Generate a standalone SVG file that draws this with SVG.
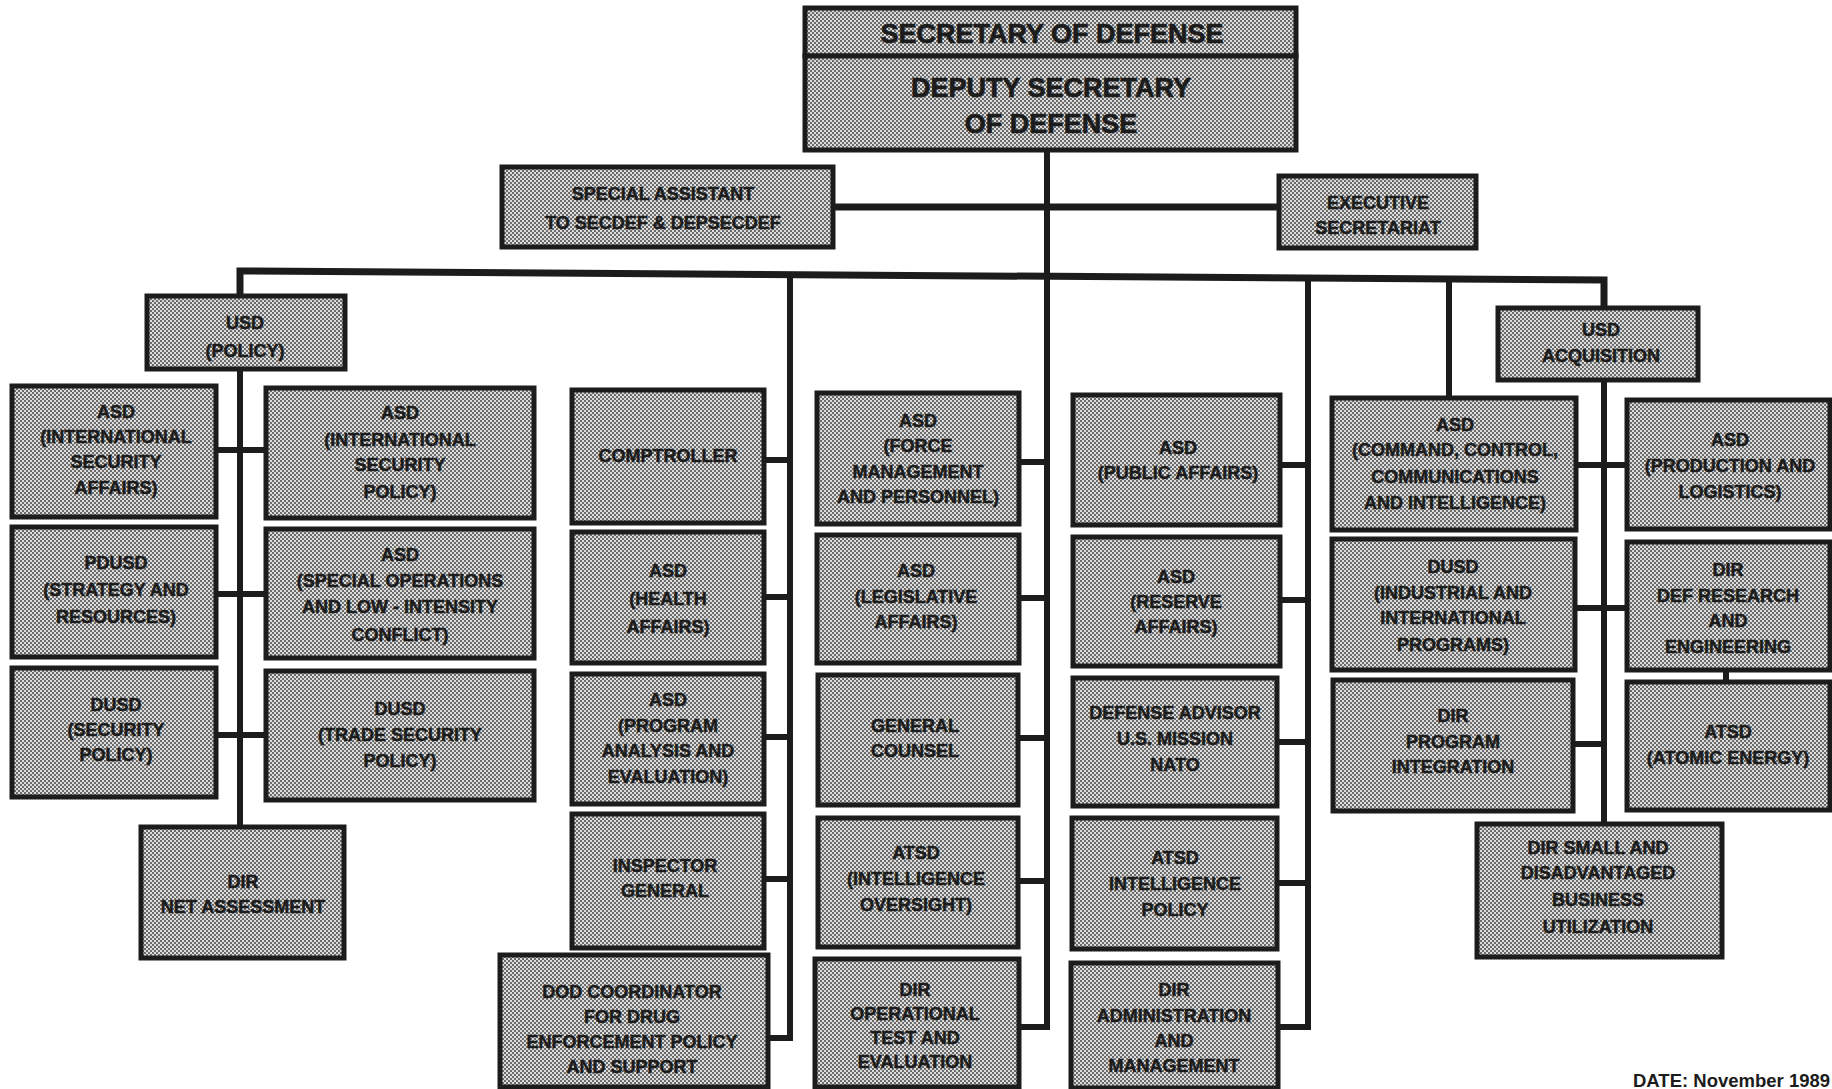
<svg xmlns="http://www.w3.org/2000/svg" width="1832" height="1089" viewBox="0 0 1832 1089">
<defs>
<pattern id="ht" width="4" height="4" patternUnits="userSpaceOnUse"><rect width="4" height="4" fill="#dcdcdc"/><circle cx="1" cy="1" r="0.95" fill="#3a3a3a"/><circle cx="3" cy="3" r="0.95" fill="#3a3a3a"/></pattern>
</defs>
<style>
.box{fill:url(#ht);stroke:#1c1c1c;stroke-width:5}
.t{font-family:"Liberation Sans",Arial,sans-serif;font-weight:bold;font-size:18px;fill:#1c1c1c;stroke:#1c1c1c;stroke-width:0.5;text-anchor:middle}
.big{font-size:27px;stroke-width:0.7}
.c{stroke:#1c1c1c;stroke-width:6;fill:none;stroke-linejoin:miter}
.cb{stroke:#1c1c1c;stroke-width:7;fill:none;stroke-linejoin:miter}
.date{font-family:"Liberation Sans",Arial,sans-serif;font-weight:bold;font-size:18.5px;fill:#1c1c1c}
</style>
<rect width="1832" height="1089" fill="#ffffff"/>
<g id="connectors">
<path class="cb" d="M240,300 V271 L1604,280 V310"/>
<path class="cb" d="M833,207 H1279"/>
<path class="c" d="M1047,150 V1027 H1017"/>
<path class="c" d="M240,271 V827"/>
<path class="c" d="M216,450 H266 M216,594 H266 M216,735 H266"/>
<path class="c" d="M790,274 V1038 H768"/>
<path class="c" d="M764,460 H790 M764,597 H790 M764,737 H790 M764,879 H790"/>
<path class="c" d="M1019,462 H1047 M1019,598 H1047 M1018,738 H1047 M1018,881 H1047"/>
<path class="c" d="M1308,278 V1027 H1278"/>
<path class="c" d="M1280,465 H1308 M1280,600 H1308 M1277,742 H1308 M1277,883 H1308"/>
<path class="c" d="M1449,279 V398"/>
<path class="c" d="M1604,280 V824"/>
<path class="c" d="M1576,465 H1627 M1575,608 H1627 M1573,744 H1604"/>
<path class="c" d="M1726,668 V684"/>
</g>
<g id="secdef"><rect class="box" x="805" y="8" width="491" height="48"/><text class="t big" x="1052" y="43">SECRETARY OF DEFENSE</text></g>
<g id="depsecdef"><rect class="box" x="805" y="56" width="491" height="94"/><text class="t big" x="1051" y="97">DEPUTY SECRETARY</text><text class="t big" x="1051" y="133">OF DEFENSE</text></g>
<g id="special-assistant"><rect class="box" x="502" y="167" width="331" height="80"/><text class="t" x="663" y="200">SPECIAL ASSISTANT</text><text class="t" x="663" y="229">TO SECDEF &amp; DEPSECDEF</text></g>
<g id="exec-sec"><rect class="box" x="1279" y="176" width="197" height="72"/><text class="t" x="1378" y="209">EXECUTIVE</text><text class="t" x="1378" y="234">SECRETARIAT</text></g>
<g id="usd-policy"><rect class="box" x="147" y="296" width="198" height="73"/><text class="t" x="245" y="329">USD</text><text class="t" x="245" y="357">(POLICY)</text></g>
<g id="usd-acq"><rect class="box" x="1498" y="308" width="200" height="72"/><text class="t" x="1601" y="336">USD</text><text class="t" x="1601" y="362">ACQUISITION</text></g>
<g id="asd-isa"><rect class="box" x="12" y="386" width="204" height="131"/><text class="t" x="116" y="418">ASD</text><text class="t" x="116" y="443">(INTERNATIONAL</text><text class="t" x="116" y="468">SECURITY</text><text class="t" x="116" y="494">AFFAIRS)</text></g>
<g id="pdusd"><rect class="box" x="12" y="527" width="204" height="130"/><text class="t" x="116" y="569">PDUSD</text><text class="t" x="116" y="596">(STRATEGY AND</text><text class="t" x="116" y="623">RESOURCES)</text></g>
<g id="dusd-sp"><rect class="box" x="12" y="668" width="204" height="129"/><text class="t" x="116" y="711">DUSD</text><text class="t" x="116" y="736">(SECURITY</text><text class="t" x="116" y="761">POLICY)</text></g>
<g id="dir-na"><rect class="box" x="141" y="827" width="203" height="131"/><text class="t" x="243" y="888">DIR</text><text class="t" x="243" y="913">NET ASSESSMENT</text></g>
<g id="asd-isp"><rect class="box" x="266" y="388" width="268" height="130"/><text class="t" x="400" y="419">ASD</text><text class="t" x="400" y="446">(INTERNATIONAL</text><text class="t" x="400" y="471">SECURITY</text><text class="t" x="400" y="498">POLICY)</text></g>
<g id="asd-solic"><rect class="box" x="266" y="529" width="268" height="129"/><text class="t" x="400" y="561">ASD</text><text class="t" x="400" y="587">(SPECIAL OPERATIONS</text><text class="t" x="400" y="613">AND LOW - INTENSITY</text><text class="t" x="400" y="641">CONFLICT)</text></g>
<g id="dusd-tsp"><rect class="box" x="266" y="671" width="268" height="129"/><text class="t" x="400" y="715">DUSD</text><text class="t" x="400" y="741">(TRADE SECURITY</text><text class="t" x="400" y="767">POLICY)</text></g>
<g id="comptroller"><rect class="box" x="572" y="390" width="192" height="133"/><text class="t" x="668" y="462">COMPTROLLER</text></g>
<g id="asd-ha"><rect class="box" x="572" y="532" width="192" height="131"/><text class="t" x="668" y="577">ASD</text><text class="t" x="668" y="605">(HEALTH</text><text class="t" x="668" y="633">AFFAIRS)</text></g>
<g id="asd-pae"><rect class="box" x="572" y="674" width="192" height="130"/><text class="t" x="668" y="706">ASD</text><text class="t" x="668" y="732">(PROGRAM</text><text class="t" x="668" y="757">ANALYSIS AND</text><text class="t" x="668" y="783">EVALUATION)</text></g>
<g id="ig"><rect class="box" x="572" y="814" width="192" height="134"/><text class="t" x="665" y="872">INSPECTOR</text><text class="t" x="665" y="897">GENERAL</text></g>
<g id="dod-drug"><rect class="box" x="500" y="955" width="268" height="132"/><text class="t" x="632" y="998">DOD COORDINATOR</text><text class="t" x="632" y="1023">FOR DRUG</text><text class="t" x="632" y="1048">ENFORCEMENT POLICY</text><text class="t" x="632" y="1073">AND SUPPORT</text></g>
<g id="asd-fmp"><rect class="box" x="817" y="393" width="202" height="131"/><text class="t" x="918" y="427">ASD</text><text class="t" x="918" y="452">(FORCE</text><text class="t" x="918" y="478">MANAGEMENT</text><text class="t" x="918" y="503">AND PERSONNEL)</text></g>
<g id="asd-la"><rect class="box" x="817" y="535" width="202" height="128"/><text class="t" x="916" y="577">ASD</text><text class="t" x="916" y="603">(LEGISLATIVE</text><text class="t" x="916" y="628">AFFAIRS)</text></g>
<g id="gc"><rect class="box" x="818" y="675" width="200" height="130"/><text class="t" x="915" y="732">GENERAL</text><text class="t" x="915" y="757">COUNSEL</text></g>
<g id="atsd-io"><rect class="box" x="818" y="818" width="200" height="129"/><text class="t" x="916" y="859">ATSD</text><text class="t" x="916" y="885">(INTELLIGENCE</text><text class="t" x="916" y="911">OVERSIGHT)</text></g>
<g id="dir-ote"><rect class="box" x="815" y="959" width="204" height="128"/><text class="t" x="915" y="996">DIR</text><text class="t" x="915" y="1020">OPERATIONAL</text><text class="t" x="915" y="1044">TEST AND</text><text class="t" x="915" y="1068">EVALUATION</text></g>
<g id="asd-pa"><rect class="box" x="1073" y="395" width="207" height="130"/><text class="t" x="1178" y="454">ASD</text><text class="t" x="1178" y="479">(PUBLIC AFFAIRS)</text></g>
<g id="asd-ra"><rect class="box" x="1073" y="537" width="207" height="129"/><text class="t" x="1176" y="583">ASD</text><text class="t" x="1176" y="608">(RESERVE</text><text class="t" x="1176" y="633">AFFAIRS)</text></g>
<g id="nato"><rect class="box" x="1073" y="678" width="204" height="128"/><text class="t" x="1175" y="719">DEFENSE ADVISOR</text><text class="t" x="1175" y="745">U.S. MISSION</text><text class="t" x="1175" y="771">NATO</text></g>
<g id="atsd-ip"><rect class="box" x="1072" y="818" width="205" height="131"/><text class="t" x="1175" y="864">ATSD</text><text class="t" x="1175" y="890">INTELLIGENCE</text><text class="t" x="1175" y="916">POLICY</text></g>
<g id="dir-am"><rect class="box" x="1071" y="963" width="207" height="125"/><text class="t" x="1174" y="996">DIR</text><text class="t" x="1174" y="1022">ADMINISTRATION</text><text class="t" x="1174" y="1047">AND</text><text class="t" x="1174" y="1072">MANAGEMENT</text></g>
<g id="asd-c3i"><rect class="box" x="1332" y="398" width="244" height="132"/><text class="t" x="1455" y="431">ASD</text><text class="t" x="1455" y="456">(COMMAND, CONTROL,</text><text class="t" x="1455" y="483">COMMUNICATIONS</text><text class="t" x="1455" y="509">AND INTELLIGENCE)</text></g>
<g id="dusd-iip"><rect class="box" x="1332" y="539" width="243" height="131"/><text class="t" x="1453" y="573">DUSD</text><text class="t" x="1453" y="599">(INDUSTRIAL AND</text><text class="t" x="1453" y="624">INTERNATIONAL</text><text class="t" x="1453" y="651">PROGRAMS)</text></g>
<g id="dir-pi"><rect class="box" x="1333" y="680" width="240" height="131"/><text class="t" x="1453" y="722">DIR</text><text class="t" x="1453" y="748">PROGRAM</text><text class="t" x="1453" y="773">INTEGRATION</text></g>
<g id="asd-pl"><rect class="box" x="1627" y="400" width="203" height="129"/><text class="t" x="1730" y="446">ASD</text><text class="t" x="1730" y="472">(PRODUCTION AND</text><text class="t" x="1730" y="498">LOGISTICS)</text></g>
<g id="dir-dre"><rect class="box" x="1627" y="542" width="203" height="128"/><text class="t" x="1728" y="576">DIR</text><text class="t" x="1728" y="602">DEF RESEARCH</text><text class="t" x="1728" y="627">AND</text><text class="t" x="1728" y="653">ENGINEERING</text></g>
<g id="atsd-ae"><rect class="box" x="1627" y="682" width="203" height="128"/><text class="t" x="1728" y="738">ATSD</text><text class="t" x="1728" y="764">(ATOMIC ENERGY)</text></g>
<g id="dir-sadbu"><rect class="box" x="1477" y="824" width="245" height="133"/><text class="t" x="1598" y="854">DIR SMALL AND</text><text class="t" x="1598" y="879">DISADVANTAGED</text><text class="t" x="1598" y="906">BUSINESS</text><text class="t" x="1598" y="933">UTILIZATION</text></g>
<text class="date" x="1633" y="1087">DATE: November 1989</text>
</svg>
